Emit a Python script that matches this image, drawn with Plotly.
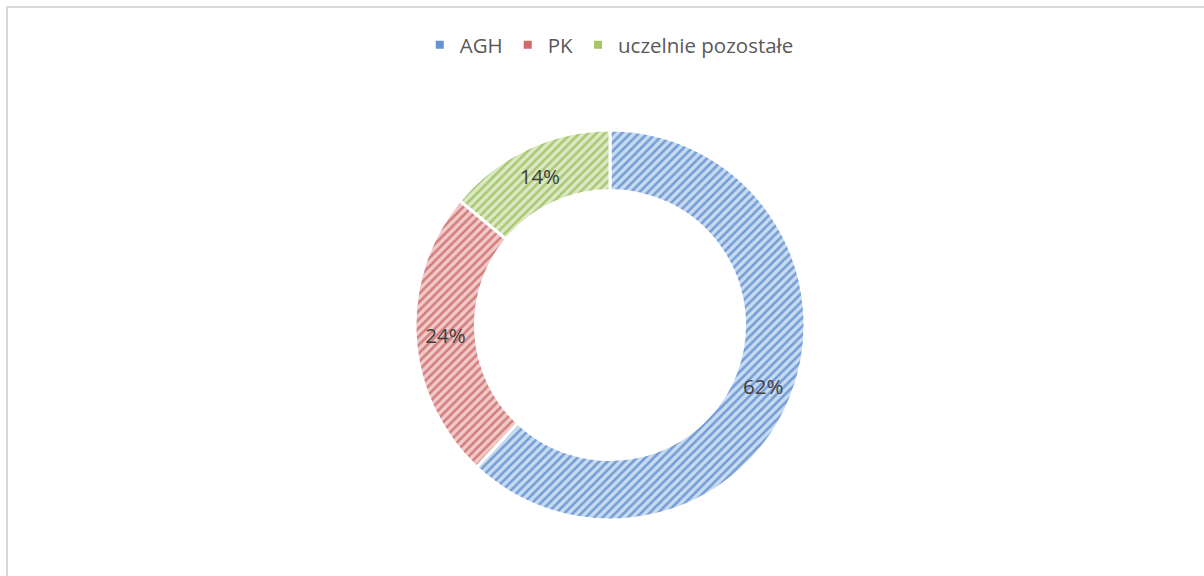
import plotly.graph_objects as go

labels = ['AGH', 'PK', 'uczelnie pozostałe']
values = [62, 24, 14]

bg_colors = ['#c9dbf1', '#f1cac9', '#dce9c5']
fg_colors = ['#739dd6', '#d27e7c', '#aac872']
legend_colors = ['#6592d2', '#d06a69', '#a8c566']

W, H = 1204, 576
cx, cy, r = 610, 325, 195

fig = go.Figure()
fig.add_trace(go.Pie(
    labels=labels,
    values=values,
    sort=False,
    direction='clockwise',
    rotation=0,
    hole=0.69,
    showlegend=False,
    hoverinfo='skip',
    marker=dict(
        colors=bg_colors,
        line=dict(color='white', width=3),
        pattern=dict(shape='/', fgcolor=fg_colors, bgcolor=bg_colors, size=6, solidity=0.42),
    ),
    texttemplate='%{percent:.0%}',
    textposition='inside',
    insidetextorientation='horizontal',
    textfont=dict(family='Open Sans', size=20.5, color='#404040'),
    domain=dict(x=[(cx - r) / W, (cx + r) / W], y=[1 - (cy + r) / H, 1 - (cy - r) / H]),
))

# legend entries with plain square swatches
for name, color in zip(labels, legend_colors):
    fig.add_trace(go.Scatter(x=[None], y=[None], mode='markers', name=name, hoverinfo='skip',
                             marker=dict(symbol='square', size=8, color=color)))

# chart area border
fig.add_shape(type='rect', xref='paper', yref='paper',
              x0=7 / W, x1=1.01, y0=-0.01, y1=1 - 7 / H,
              line=dict(color='#d9d9d9', width=2))

fig.update_layout(
    width=W, height=H,
    margin=dict(l=0, r=0, t=0, b=0),
    paper_bgcolor='white',
    plot_bgcolor='white',
    xaxis=dict(visible=False),
    yaxis=dict(visible=False),
    showlegend=True,
    legend=dict(orientation='h', x=0.506, xanchor='center', y=1 - 45 / H, yanchor='middle',
                itemwidth=30,
                font=dict(family='Open Sans', size=20.5, color='#595959')),
)

fig.write_html('out.html', config={'displayModeBar': False},
               post_script="document.body.style.margin='0';")
